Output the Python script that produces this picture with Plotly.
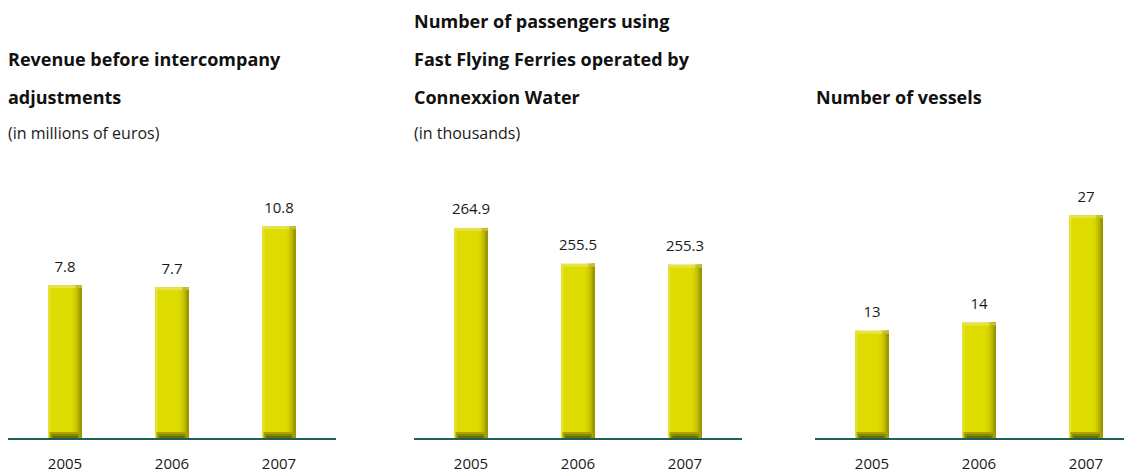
import plotly.graph_objects as go

# ---------------- data ----------------
years = ["2005", "2006", "2007"]
revenue = [7.8, 7.7, 10.8]
passengers = [264.9, 255.5, 255.3]
vessels = [13, 14, 27]

revenue_labels = ["7.8", "7.7", "10.8"]
passenger_labels = ["264.9", "255.5", "255.3"]
vessel_labels = ["13", "14", "27"]

titles = [
    ["Revenue before intercompany", "adjustments"],
    ["Number of passengers using", "Fast Flying Ferries operated by", "Connexxion Water"],
    ["Number of vessels"],
]
subtitles = ["(in millions of euros)", "(in thousands)", ""]

# ---------------- layout constants ----------------
W, H = 1132, 472
OFF = 8                 # page body margin compensation
base_px = 438 - OFF     # baseline y (pixels from top of figure)
top_px = 190 - OFF
plot_h = base_px - top_px

panels = [
    dict(vals=revenue, labels=revenue_labels, yrange=[0, 12.65], xl=8, xr=336),
    dict(vals=passengers, labels=passenger_labels, yrange=[210, 274.8], xl=414, xr=742),
    dict(vals=vessels, labels=vessel_labels, yrange=[0, 30.06], xl=815, xr=1132),
]
left_pos = [8, 414, 816]

step_px = 107.0
bar_w = 0.318
hw = bar_w / 2

fig = go.Figure()

YELLOW = "#dedb00"
TXT = "#1a1a1a"

for i, p in enumerate(panels):
    ax = "" if i == 0 else str(i + 1)
    xa, ya = "x" + ax, "y" + ax
    y0, y1 = p["yrange"]
    unit = (y1 - y0) / plot_h  # data units per pixel
    vals = p["vals"]

    def add(height_fn, base_fn, off, w, color):
        fig.add_trace(go.Bar(
            x=years, y=[height_fn(v) for v in vals], base=[base_fn(v) for v in vals],
            offset=off, width=w, marker=dict(color=color, line=dict(width=0)),
            xaxis=xa, yaxis=ya, showlegend=False, hoverinfo="skip"))

    # main body
    add(lambda v: v - y0, lambda v: y0, -hw, bar_w, YELLOW)
    # left highlight
    add(lambda v: v - y0, lambda v: y0, -hw, 0.025, "#e4e22e")
    # right shading strips
    strips = [(0.07, "#d6d300"), (0.095, "#c9c500"), (0.115, "#b8b300"),
              (0.13, "#a8a300"), (0.145, "#9c9700")]
    for s, c in strips:
        add(lambda v: v - y0, lambda v: y0, s, hw - s, c)
    # soft top highlight
    add(lambda v: 3 * unit, lambda v: v - 3 * unit, -hw, bar_w - 0.06, "#e6e34a")
    add(lambda v: 3 * unit, lambda v: v - 3 * unit, hw - 0.06, 0.06, "#c4bf3a")
    # bottom shadow
    add(lambda v: 6 * unit, lambda v: y0, -hw + 0.015, bar_w - 0.03, "#a9a500")
    add(lambda v: 4 * unit, lambda v: y0, -hw + 0.03, bar_w - 0.06, "#8a8600")
    add(lambda v: 2 * unit, lambda v: y0, -hw + 0.045, bar_w - 0.09, "#6c6900")

    # value labels (invisible markers push the text up)
    fig.add_trace(go.Scatter(
        x=years, y=vals, mode="markers+text", text=p["labels"],
        textposition="top center",
        marker=dict(size=14, color="rgba(0,0,0,0)"),
        textfont=dict(family="Open Sans", size=15, color=TXT),
        xaxis=xa, yaxis=ya, showlegend=False, hoverinfo="skip", cliponaxis=False))

    span_px = p["xr"] - p["xl"]
    r0 = -(57.0 / step_px)
    r1 = r0 + span_px / step_px
    xr_fig = min(p["xr"] - OFF, W)
    fig.layout["xaxis" + ax] = dict(
        domain=[(p["xl"] - OFF) / W, xr_fig / W], range=[r0, r1], type="category",
        showgrid=False, zeroline=False, showline=True, linecolor="#1f5f5a", linewidth=2,
        ticks="outside", ticklen=11, tickcolor="rgba(0,0,0,0)",
        tickfont=dict(family="Open Sans", size=15, color=TXT),
        anchor=ya, fixedrange=True, automargin=False)
    fig.layout["yaxis" + ax] = dict(
        domain=[(H - base_px) / H, (H - top_px) / H], range=[y0, y1],
        showgrid=False, zeroline=False, showline=False, showticklabels=False,
        anchor=xa, fixedrange=True, automargin=False)

    # titles
    lines = titles[i]
    n_l = len(lines)
    for j, t in enumerate(lines):
        ypx = 97 - 38 * (n_l - 1 - j) - OFF
        fig.add_annotation(x=(left_pos[i] - OFF) / W, y=1 - ypx / H, xref="paper", yref="paper",
                           text="<b>" + t + "</b>", showarrow=False, xanchor="left",
                           xshift=-2, yanchor="middle",
                           font=dict(family="Open Sans", size=18, color="#111111"))
    if subtitles[i]:
        fig.add_annotation(x=(left_pos[i] - OFF) / W, y=1 - (133 - OFF) / H,
                           xref="paper", yref="paper",
                           text=subtitles[i], showarrow=False, xanchor="left",
                           xshift=-2, yanchor="middle",
                           font=dict(family="Open Sans", size=16, color=TXT))

fig.update_layout(
    width=W, height=H, barmode="overlay",
    margin=dict(l=0, r=0, t=0, b=0),
    paper_bgcolor="white", plot_bgcolor="white",
    showlegend=False,
)

fig.write_html("out.html")
